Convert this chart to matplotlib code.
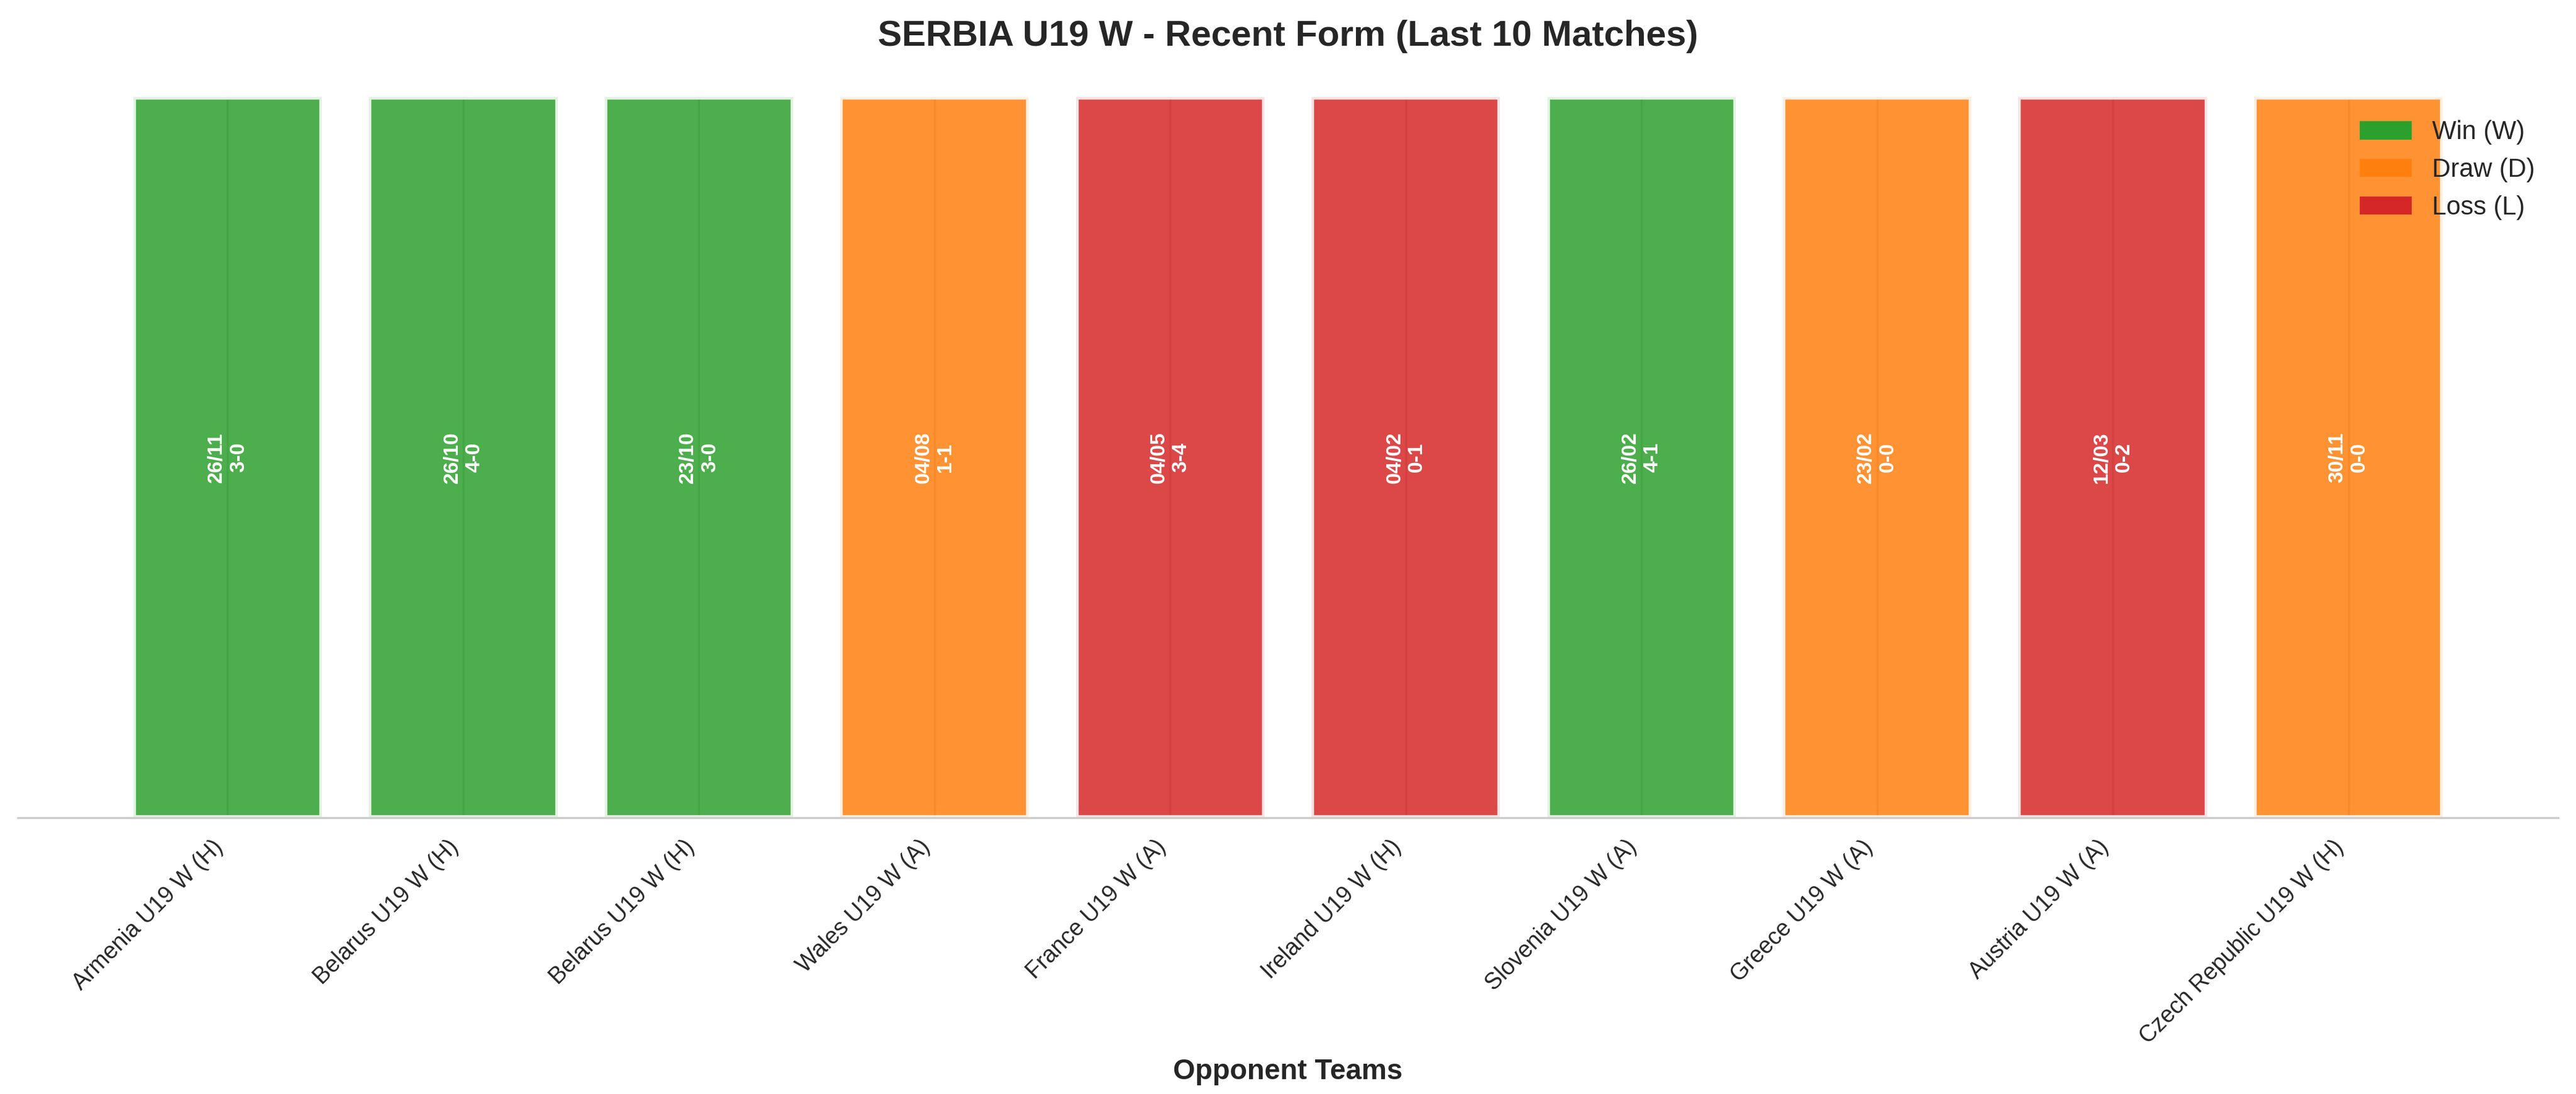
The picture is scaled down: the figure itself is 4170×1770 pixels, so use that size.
import matplotlib
matplotlib.use("Agg")
import matplotlib.pyplot as plt
import seaborn as sns
from matplotlib.patches import Patch

# ---- data ----
opponents = ["Armenia U19 W (H)", "Belarus U19 W (H)", "Belarus U19 W (H)",
             "Wales U19 W (A)", "France U19 W (A)", "Ireland U19 W (H)",
             "Slovenia U19 W (A)", "Greece U19 W (A)", "Austria U19 W (A)",
             "Czech Republic U19 W (H)"]
dates = ["26/11", "26/10", "23/10", "04/08", "04/05", "04/02", "26/02", "23/02", "12/03", "30/11"]
scores = ["3-0", "4-0", "3-0", "1-1", "3-4", "0-1", "4-1", "0-0", "0-2", "0-0"]
results = ["W", "W", "W", "D", "L", "L", "W", "D", "L", "D"]
bar_values = [1, 1, 1, 1, 1, 1, 1, 1, 1, 1]

result_colors = {"W": "#2ca02c", "D": "#ff7f0e", "L": "#d62728"}
legend_labels = {"W": "Win (W)", "D": "Draw (D)", "L": "Loss (L)"}

sns.set_style("whitegrid")
plt.rcParams['font.family'] = ['Liberation Sans', 'DejaVu Sans']

fig = plt.figure(figsize=(13.9, 5.9), dpi=300)
W, H = 4170, 1770
ax = fig.add_axes([29 / W, (H - 1323) / H, (4141 - 29) / W, (1323 - 157) / H])

x = list(range(len(opponents)))
colors = [result_colors[r] for r in results]
ax.bar(x, bar_values, color=colors, alpha=0.85, edgecolor='white', linewidth=2, width=0.8)

for i, (d, s) in enumerate(zip(dates, scores)):
    ax.text(i, 0.5, f"{d}\n{s}", ha='center', va='center', rotation=90,
            color='white', fontweight='bold', fontsize=8)

ax.set_xticks(x)
ax.set_xticklabels(opponents, rotation=45, ha='right', fontsize=9)
ax.set_yticks([])
ax.set_ylim(0, 1)
ax.set_xlabel("Opponent Teams", fontsize=11, fontweight='bold')
ax.set_title("SERBIA U19 W - Recent Form (Last 10 Matches)", fontsize=14, fontweight='bold', pad=20)

for sp in ['left', 'top', 'right']:
    ax.spines[sp].set_visible(False)
ax.spines['bottom'].set_color('#cccccc')

handles = [Patch(facecolor=result_colors[k], edgecolor='none', linewidth=0, label=legend_labels[k])
           for k in ["W", "D", "L"]]
ax.legend(handles=handles, loc='upper right', frameon=False, fontsize=10)

fig.savefig('out.png', dpi=300)
